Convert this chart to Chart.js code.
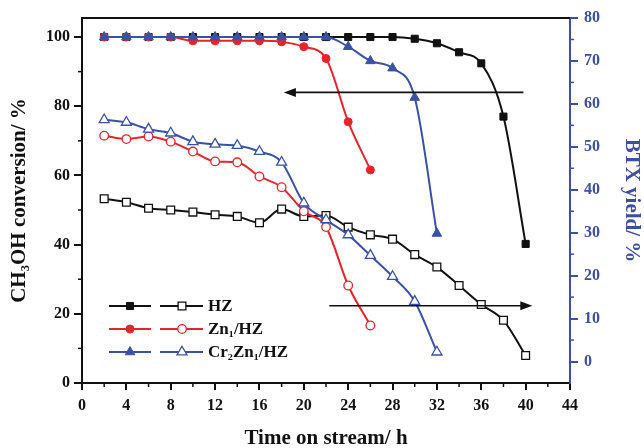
<!DOCTYPE html>
<html>
<head>
<meta charset="utf-8">
<script src="https://cdn.jsdelivr.net/npm/chart.js@4.4.1/dist/chart.umd.min.js"></script>
<style>
  html, body { margin: 0; padding: 0; background: #fff; }
  #wrap { width: 644px; height: 448px; }
</style>
</head>
<body>
<div id="wrap"><canvas id="btxChart"></canvas></div>
<script>
// time on stream (h)
const hzHours = [2, 4, 6, 8, 10, 12, 14, 16, 18, 20, 22, 24, 26, 28, 30, 32, 34, 36, 38, 40];
const znHours = [2, 4, 6, 8, 10, 12, 14, 16, 18, 20, 22, 24, 26];
const crHours = [2, 4, 6, 8, 10, 12, 14, 16, 18, 20, 22, 24, 26, 28, 30, 32];

// CH3OH conversion (%) - filled markers, left axis
const hzConv = [100, 100, 100, 100, 100, 100, 100, 100, 100, 100, 100, 100, 100, 100, 99.5, 98.2, 95.6, 92.4, 77, 40.2];
const znConv = [100, 100, 100, 100, 98.9, 98.9, 98.9, 98.9, 98.6, 97.2, 93.8, 75.5, 61.6];
const crConv = [100, 100, 100, 100, 100, 100, 100, 100, 100, 100, 100, 97.2, 93.1, 91.0, 82.5, 43.2];

// BTX yield (%) - open markers, right axis
const hzYield = [37.9, 37.1, 35.7, 35.3, 34.8, 34.2, 33.8, 32.3, 35.5, 33.8, 34.0, 31.3, 29.5, 28.5, 24.9, 22.0, 17.7, 13.3, 9.6, 1.4];
const znYield = [52.6, 51.8, 52.4, 51.2, 48.9, 46.6, 46.4, 43.1, 40.6, 35.0, 31.3, 17.7, 8.4];
const crYield = [56.3, 55.7, 54.1, 53.2, 51.2, 50.6, 50.3, 48.9, 46.4, 36.9, 33.0, 29.5, 24.7, 19.8, 14.0, 2.2];

const names = ["HZ", "Zn\u2081/HZ", "Cr\u2082Zn\u2081/HZ"];

// tick labels
const xTicks = [0, 4, 8, 12, 16, 20, 24, 28, 32, 36, 40, 44];
const xMinor = [2, 6, 10, 14, 18, 22, 26, 30, 34, 38, 42];
const leftTicks = [0, 20, 40, 60, 80, 100];
const leftMinor = [10, 30, 50, 70, 90];
const rightTicks = [0, 10, 20, 30, 40, 50, 60, 70, 80];
const rightMinor = [5, 15, 25, 35, 45, 55, 65, 75];

const BLACK = "#111111";
const RED = "#e8242b";
const BLUE = "#3a52a4";
const AXIS_BLUE = "#3d4f9e";
const SERIF = "'Liberation Serif', 'Times New Roman', serif";

const pts = (xs, ys) => xs.map((x, i) => ({ x: x, y: ys[i] }));

function series(label, xs, ys, color, style, open, axis, order, r) {
  return {
    label: label,
    data: pts(xs, ys),
    yAxisID: axis,
    borderColor: color,
    backgroundColor: open ? "#ffffff" : color,
    pointBackgroundColor: open ? "#ffffff" : color,
    pointBorderColor: color,
    pointBorderWidth: open ? 1.3 : 1,
    pointStyle: style,
    pointRadius: r,
    borderWidth: 2,
    tension: 0.4,
    cubicInterpolationMode: "monotone",
    order: order,
  };
}

// arrows that point each group to its axis
const arrows = [
  { axis: "yL", y: 84, from: 39.8, to: 18.2 },
  { axis: "yR", y: 13, from: 22.3, to: 40.6 },
];

const minorTicks = {
  id: "minorTicks",
  afterDraw(chart) {
    const ctx = chart.ctx;
    const { x, yL, yR } = chart.scales;
    ctx.save();
    ctx.lineWidth = 1.5;
    ctx.strokeStyle = BLACK;
    xMinor.forEach((v) => {
      const px = x.getPixelForValue(v);
      ctx.beginPath(); ctx.moveTo(px, x.top); ctx.lineTo(px, x.top + 4); ctx.stroke();
    });
    leftMinor.forEach((v) => {
      const py = yL.getPixelForValue(v);
      ctx.beginPath(); ctx.moveTo(yL.right, py); ctx.lineTo(yL.right - 4, py); ctx.stroke();
    });
    ctx.strokeStyle = AXIS_BLUE;
    rightMinor.forEach((v) => {
      const py = yR.getPixelForValue(v);
      ctx.beginPath(); ctx.moveTo(yR.left, py); ctx.lineTo(yR.left + 4, py); ctx.stroke();
    });
    // top frame line
    const a = chart.chartArea;
    ctx.strokeStyle = BLACK;
    ctx.lineWidth = 2;
    ctx.beginPath(); ctx.moveTo(a.left, a.top); ctx.lineTo(a.right, a.top); ctx.stroke();
    ctx.restore();
  },
};

const arrowPlugin = {
  id: "arrows",
  afterDatasetsDraw(chart) {
    const ctx = chart.ctx;
    const xs = chart.scales.x;
    ctx.save();
    ctx.strokeStyle = BLACK;
    ctx.fillStyle = BLACK;
    ctx.lineWidth = 1.6;
    arrows.forEach((a) => {
      const py = chart.scales[a.axis].getPixelForValue(a.y);
      const x1 = xs.getPixelForValue(a.from);
      const x2 = xs.getPixelForValue(a.to);
      const dir = x2 > x1 ? 1 : -1;
      ctx.beginPath(); ctx.moveTo(x1, py); ctx.lineTo(x2 - dir * 8, py); ctx.stroke();
      ctx.beginPath();
      ctx.moveTo(x2, py);
      ctx.lineTo(x2 - dir * 12, py - 4.5);
      ctx.lineTo(x2 - dir * 12, py + 4.5);
      ctx.closePath();
      ctx.fill();
    });
    ctx.restore();
  },
};

const legendPlugin = {
  id: "pairLegend",
  afterDraw(chart) {
    const ctx = chart.ctx;
    const a = chart.chartArea;
    const ds = chart.data.datasets;
    ctx.save();
    names.forEach((name, i) => {
      const filled = ds[i];
      const open = ds[i + 3];
      const y = a.bottom - 77 + i * 23;
      const x0 = a.left + 27;
      ctx.strokeStyle = filled.borderColor;
      ctx.lineWidth = 2;
      ctx.beginPath(); ctx.moveTo(x0, y); ctx.lineTo(x0 + 42, y); ctx.stroke();
      ctx.beginPath(); ctx.moveTo(x0 + 51, y); ctx.lineTo(x0 + 94, y); ctx.stroke();
      ctx.fillStyle = filled.borderColor;
      ctx.lineWidth = 1;
      Chart.helpers.drawPoint(ctx, { pointStyle: filled.pointStyle, radius: filled.pointRadius, rotation: 0, borderWidth: 1 }, x0 + 21, y);
      ctx.fillStyle = "#ffffff";
      ctx.lineWidth = 1.3;
      Chart.helpers.drawPoint(ctx, { pointStyle: open.pointStyle, radius: open.pointRadius, rotation: 0, borderWidth: 1.3 }, x0 + 73, y);
      ctx.fillStyle = BLACK;
      ctx.font = "bold 17px " + SERIF;
      ctx.textBaseline = "middle";
      ctx.fillText(name, x0 + 99, y + 1);
    });
    ctx.restore();
  },
};

const tickFont = { family: SERIF, size: 16, weight: "bold" };
const titleFont = { family: SERIF, size: 21, weight: "bold" };

new Chart(document.getElementById("btxChart"), {
  type: "line",
  data: {
    datasets: [
      series(names[0], hzHours, hzConv, BLACK, "rect", false, "yL", 6, 5),
      series(names[1], znHours, znConv, RED, "circle", false, "yL", 5, 4),
      series(names[2], crHours, crConv, BLUE, "triangle", false, "yL", 4, 5.5),
      series(names[0], hzHours, hzYield, BLACK, "rect", true, "yR", 3, 5.5),
      series(names[1], znHours, znYield, RED, "circle", true, "yR", 2, 4.3),
      series(names[2], crHours, crYield, BLUE, "triangle", true, "yR", 1, 5.8),
    ],
  },
  options: {
    responsive: true,
    maintainAspectRatio: false,
    animation: false,
    layout: { padding: { top: 18, left: 0, right: 0, bottom: 0 } },
    plugins: { legend: { display: false }, tooltip: { enabled: false } },
    scales: {
      x: {
        type: "linear",
        position: "bottom",
        min: 0,
        max: 44,
        afterBuildTicks: (s) => { s.ticks = xTicks.map((v) => ({ value: v })); },
        afterFit: (s) => { s.height = 65; },
        ticks: { font: tickFont, color: BLACK, padding: 6, maxRotation: 0 },
        grid: { drawOnChartArea: false, tickLength: 7, tickColor: BLACK, lineWidth: 2 },
        border: { color: BLACK, width: 2 },
        title: { display: true, text: "Time on stream/ h", font: Object.assign({ lineHeight: 0.9 }, titleFont), color: BLACK, padding: { top: 0, bottom: 0 } },
      },
      yL: {
        type: "linear",
        position: "left",
        min: 0,
        max: 105.5,
        afterBuildTicks: (s) => { s.ticks = leftTicks.map((v) => ({ value: v })); },
        afterFit: (s) => { s.width = 82; },
        ticks: { font: tickFont, color: BLACK, padding: 4 },
        grid: { drawOnChartArea: false, tickLength: 8, tickColor: BLACK, lineWidth: 2 },
        border: { color: BLACK, width: 2 },
        title: { display: true, text: "CH\u2083OH conversion/ %", font: titleFont, color: BLACK, padding: { top: 7, bottom: 0 } },
      },
      yR: {
        type: "linear",
        position: "right",
        min: -5,
        max: 80,
        afterBuildTicks: (s) => { s.ticks = rightTicks.map((v) => ({ value: v })); },
        afterFit: (s) => { s.width = 74; },
        ticks: { font: tickFont, color: AXIS_BLUE, padding: 6 },
        grid: { drawOnChartArea: false, tickLength: 8, tickColor: AXIS_BLUE, lineWidth: 2 },
        border: { color: AXIS_BLUE, width: 2 },
        title: { display: true, text: "BTX yield/ %", font: titleFont, color: AXIS_BLUE, padding: { top: 0, bottom: 0 } },
      },
    },
  },
  plugins: [minorTicks, arrowPlugin, legendPlugin],
});
</script>
</body>
</html>
